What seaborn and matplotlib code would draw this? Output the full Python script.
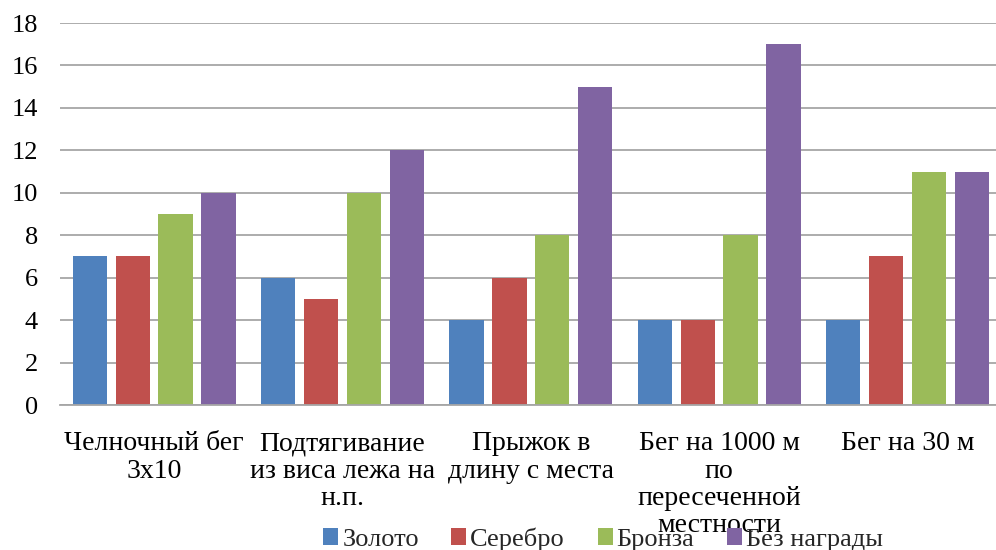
import matplotlib
matplotlib.use("Agg")
import matplotlib.pyplot as plt
import seaborn as sns
import pandas as pd
from matplotlib.patches import Patch

categories = ["Челночный бег\n3x10", "Подтягивание\nиз виса лежа на\nн.п.",
              "Прыжок в\nдлину с места", "Бег на 1000 м\nпо\nпересеченной\nместности",
              "Бег на 30 м"]
series = ["Золото", "Серебро", "Бронза", "Без награды"]
gold = [7, 6, 4, 4, 4]
silver = [7, 5, 6, 4, 7]
bronze = [9, 10, 8, 8, 11]
none_ = [10, 12, 15, 17, 11]
colors = ["#4F81BD", "#C0504D", "#9BBB59", "#8064A2"]

rows = []
for s, vals in zip(series, [gold, silver, bronze, none_]):
    for c, v in zip(categories, vals):
        rows.append({"cat": c, "series": s, "value": v})
df = pd.DataFrame(rows)

sns.set_theme(style="white")
plt.rcParams['font.family'] = ['Liberation Serif', 'DejaVu Serif']

FS = 19
fig = plt.figure(figsize=(9.96, 5.5), dpi=100)
ax = fig.add_axes([60/996, (550-405)/550, 1 - 60/996, (405-23)/550])
sns.barplot(data=df, x="cat", y="value", hue="series", order=categories,
            hue_order=series, palette=colors, width=0.91, gap=0.2,
            saturation=1, ax=ax, legend=False, edgecolor="none", linewidth=0)
ax.set_ylim(0, 18)
ax.set_yticks(range(0, 19, 2))
ax.set_xlim(-0.5, 4.47)
ax.yaxis.grid(True, color="#A6A6A6", linewidth=1.3)
ax.set_axisbelow(True)
for side in ["left", "right", "top"]:
    ax.spines[side].set_visible(False)
ax.spines["bottom"].set_color("#A6A6A6")
ax.spines["bottom"].set_linewidth(1.3)
ax.set_xlabel("")
ax.set_ylabel("")
ax.tick_params(axis="y", length=0, pad=16, labelsize=FS, colors="black")
ax.tick_params(axis="x", length=0, pad=19, labelsize=20, colors="black")
for lbl in ax.get_xticklabels():
    lbl.set_linespacing(1.12)
    lbl.set_horizontalalignment("center")
    lbl.set_multialignment("center")

handles = [Patch(facecolor=c, edgecolor="none") for c in colors]
fig.legend(handles, series, loc="center", bbox_to_anchor=(603/996, 1 - 539/550),
           ncol=4, frameon=False, fontsize=FS, handlelength=0.57, handleheight=0.57,
           handletextpad=0.15, columnspacing=1.23, borderpad=0)

fig.savefig("out.png", dpi=100)
